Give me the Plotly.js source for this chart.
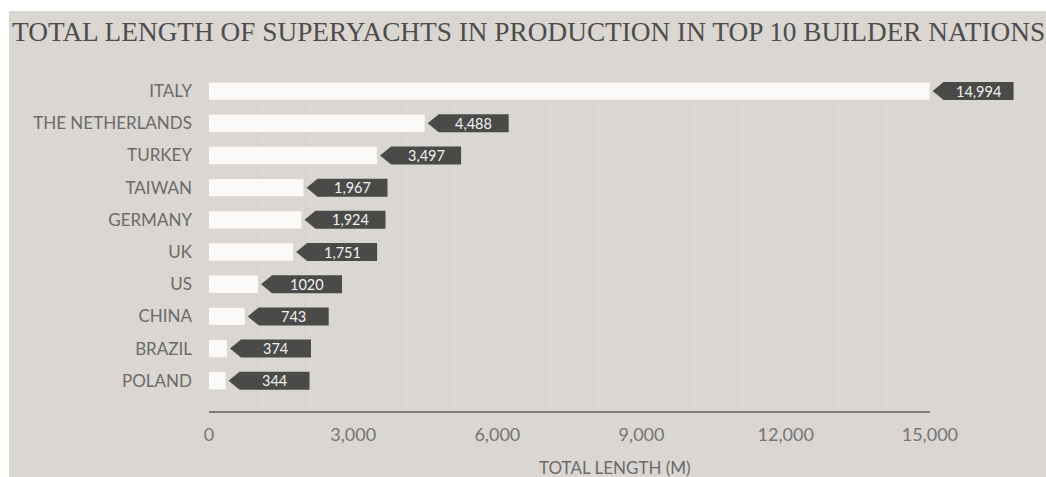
<!DOCTYPE html>
<html>
<head>
<meta charset="utf-8">
<script src="https://cdn.plot.ly/plotly-3.0.1.min.js"></script>
<style>
  html, body { margin: 0; padding: 0; background: #ffffff; width: 1046px; height: 477px; overflow: hidden; }
  #chart { position: absolute; left: 9px; top: 11px; width: 1037px; height: 466px; }
</style>
</head>
<body>
<div id="chart"></div>
<script>
// ---- data ----
var countries = ["ITALY", "THE NETHERLANDS", "TURKEY", "TAIWAN", "GERMANY", "UK", "US", "CHINA", "BRAZIL", "POLAND"];
var totalLength = [14994, 4488, 3497, 1967, 1924, 1751, 1020, 743, 374, 344];
var valueLabels = ["14,994", "4,488", "3,497", "1,967", "1,924", "1,751", "1020", "743", "374", "344"];
var xTickVals = [0, 3000, 6000, 9000, 12000, 15000];
var xTickText = ["0", "3,000", "6,000", "9,000", "12,000", "15,000"];
var gridVals = [1000, 2000, 4000, 5000, 7000, 8000, 10000, 11000, 13000, 14000];
var axisEnd = 15000;
var titleText = "TOTAL LENGTH OF SUPERYACHTS IN PRODUCTION IN TOP 10 BUILDER NATIONS";
var xTitleText = "TOTAL LENGTH (M)";

// ---- styles ----
var BG = "#dad6d2";
var BAR = "#fbfaf8";
var TAG = "#4a4a48";
var SANS = "Lato, 'Open Sans', sans-serif";

var trace = {
  type: "bar",
  orientation: "h",
  y: countries,
  x: totalLength,
  marker: { color: BAR, line: { width: 0 } },
  hoverinfo: "x+y"
};

var shapes = countries.map(function (c, i) {
  return {
    type: "path",
    xref: "x", yref: "y",
    xsizemode: "pixel", ysizemode: "pixel",
    xanchor: totalLength[i], yanchor: c,
    path: "M 3 0 L 14 9 L 84 9 L 84 -9 L 14 -9 Z",
    fillcolor: TAG,
    line: { width: 0 },
    layer: "above"
  };
});

// axis baseline from 0 to 15,000
shapes.push({
  type: "line", xref: "x", yref: "paper",
  x0: 0, x1: axisEnd, y0: 0, y1: 0,
  line: { color: "#7d7b79", width: 2 },
  layer: "above"
});

var annotations = countries.map(function (c, i) {
  return {
    x: totalLength[i], y: c, xref: "x", yref: "y",
    xanchor: "center", yanchor: "middle",
    xshift: 49, yshift: 0,
    text: valueLabels[i],
    showarrow: false,
    font: { family: SANS, size: 14.5, color: "#f2f2f2" }
  };
});

annotations.push({
  xref: "x", yref: "paper",
  x: 8450, y: -0.165,
  xanchor: "center", yanchor: "middle",
  text: xTitleText, showarrow: false,
  font: { family: SANS, size: 17, color: "#6a6a6a" }
});

var layout = {
  width: 1037, height: 466,
  paper_bgcolor: BG, plot_bgcolor: BG,
  margin: { l: 200, r: 20, t: 64, b: 65, pad: 0 },
  showlegend: false,
  bargap: 0.46,
  title: {
    text: titleText,
    xref: "container", yref: "container",
    x: 3 / 1037, xanchor: "left",
    y: 1 - 20 / 466, yanchor: "middle",
    font: { family: "'Liberation Serif', 'DejaVu Serif', serif", size: 27.3, color: "#4d4d4d" }
  },
  xaxis: {
    range: [0, 17000],
    tickvals: xTickVals, ticktext: xTickText,
    showgrid: false, zeroline: false,
    showline: false,
    ticks: "", ticklabelstandoff: 10,
    tickfont: { family: SANS, size: 18, color: "#767472" },
    minor: { tickmode: "array", tickvals: gridVals, showgrid: true, gridcolor: "#d4d0cd", gridwidth: 1, ticks: "" },
    fixedrange: true
  },
  yaxis: {
    type: "category",
    categoryorder: "array", categoryarray: countries,
    autorange: false, range: [9.97, -0.5],
    showgrid: false, zeroline: false, showline: false,
    ticks: "", ticklabelstandoff: 16,
    tickfont: { family: SANS, size: 17, color: "#6b6a69" },
    fixedrange: true
  },
  shapes: shapes,
  annotations: annotations
};

Plotly.newPlot("chart", [trace], layout, { displayModeBar: false, staticPlot: true });
</script>
</body>
</html>
